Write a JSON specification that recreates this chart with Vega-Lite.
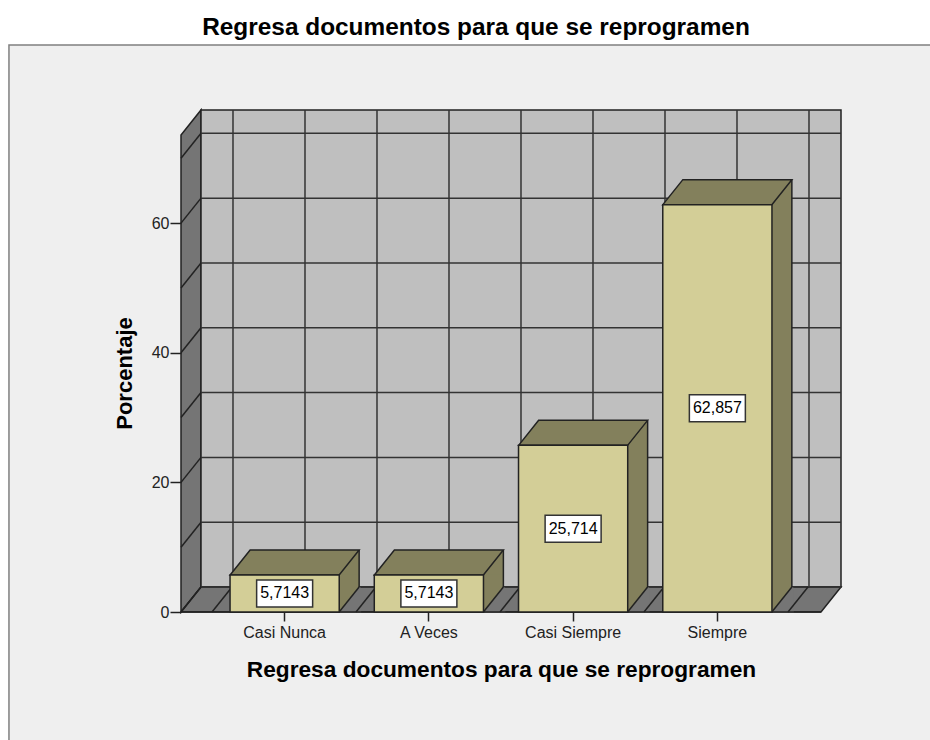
{
"$schema":"https://vega.github.io/schema/vega-lite/v6.json",
"autosize":"none",
"padding":{"left":181,"top":135,"right":109,"bottom":128},
"width":640,"height":477,
"background":"white",
"title":{"text":"Regresa documentos para que se reprogramen","font":"Liberation Sans","fontSize":24.4,"fontWeight":"bold","color":"#000","anchor":"middle","dx":-25,"dy":27,"offset":7,"baseline":"bottom"},
"config":{"view":{"stroke":null},"font":"Liberation Sans"},
"datasets":{
"bars":[{"cat":"Casi Nunca","value":5.7143,"label":"5,7143"},{"cat":"A Veces","value":5.7143,"label":"5,7143"},{"cat":"Casi Siempre","value":25.714,"label":"25,714"},{"cat":"Siempre","value":62.857,"label":"62,857"}],
"ticks":[{"v":0},{"v":10},{"v":20},{"v":30},{"v":40},{"v":50},{"v":60},{"v":70}],
"cols":[{"g":0},{"g":1},{"g":2},{"g":3},{"g":4},{"g":5},{"g":6},{"g":7},{"g":8}],
"one":[{"k":1}]
},
"resolve":{"scale":{"x":"independent","y":"independent"}},
"layer":[
{"data":{"name":"one"},"mark":{"type":"rect","fill":"#efefef","stroke":"#808080","strokeWidth":1.5},
 "encoding":{"x":{"datum":-2.82,"type":"quantitative","scale":{"domain":[-0.4306,8.4583],"nice":false,"zero":false},"axis":null},"x2":{"datum":12},
 "y":{"datum":87.5,"type":"quantitative","scale":{"domain":[0,73.6],"nice":false},"axis":{"values":[0,20,40,60],"title":"Porcentaje","titleFont":"Liberation Sans","titleFontSize":22,"titleFontWeight":"bold","titleColor":"#000","titleX":-45,"titleY":238,"labelFont":"Liberation Sans","labelFontSize":16,"labelColor":"#222","tickColor":"#222","tickSize":11,"tickWidth":1.5,"domain":false,"grid":false,"labelPadding":1,"zindex":2}},"y2":{"datum":-30}}},
{"data":{"name":"one"},"mark":{"type":"point","filled":true,"opacity":1,"fill":"#757575","stroke":"#222","strokeWidth":1.5,"size":4,"shape":"M0,0L0,-477L20,-502L20,-25Z"},
 "encoding":{"x":{"datum":-0.4306,"type":"quantitative","scale":{"domain":[-0.4306,8.4583],"nice":false,"zero":false},"axis":null},"y":{"datum":0,"type":"quantitative","scale":{"domain":[0,73.6],"nice":false},"axis":null}}},
{"data":{"name":"one"},"mark":{"type":"point","filled":true,"opacity":1,"fill":"#bfbfbf","stroke":"#222","strokeWidth":1.5,"size":4,"shape":"M20,-25L20,-502L660,-502L660,-25Z"},
 "encoding":{"x":{"datum":-0.4306,"type":"quantitative","scale":{"domain":[-0.4306,8.4583],"nice":false,"zero":false},"axis":null},"y":{"datum":0,"type":"quantitative","scale":{"domain":[0,73.6],"nice":false},"axis":null}}},
{"data":{"name":"one"},"mark":{"type":"point","filled":true,"opacity":1,"fill":"#757575","stroke":"#222","strokeWidth":1.5,"size":4,"shape":"M0,0L20,-25L660,-25L640,0Z"},
 "encoding":{"x":{"datum":-0.4306,"type":"quantitative","scale":{"domain":[-0.4306,8.4583],"nice":false,"zero":false},"axis":null},"y":{"datum":0,"type":"quantitative","scale":{"domain":[0,73.6],"nice":false},"axis":null}}},
{"data":{"name":"ticks"},"mark":{"type":"rule","color":"#333","strokeWidth":1.5},
 "encoding":{"x":{"datum":-0.1528,"type":"quantitative","scale":{"domain":[-0.4306,8.4583],"nice":false,"zero":false},"axis":null},"x2":{"datum":8.736},"y":{"field":"v","type":"quantitative","scale":{"domain":[-3.858,69.742],"nice":false,"zero":false},"axis":null}}},
{"data":{"name":"ticks"},"mark":{"type":"point","filled":false,"opacity":1,"stroke":"#222","strokeWidth":1.5,"size":4,"shape":"M0,0L20,-25"},
 "encoding":{"x":{"datum":-0.4306,"type":"quantitative","scale":{"domain":[-0.4306,8.4583],"nice":false,"zero":false},"axis":null},"y":{"field":"v","type":"quantitative","scale":{"domain":[0,73.6],"nice":false},"axis":null}}},
{"data":{"name":"cols"},"mark":{"type":"rule","color":"#333","strokeWidth":1.5},
 "encoding":{"x":{"field":"g","type":"quantitative","scale":{"domain":[-0.7222,8.1667],"nice":false,"zero":false},"axis":null},"y":{"datum":3.858,"type":"quantitative","scale":{"domain":[0,73.6],"nice":false},"axis":null},"y2":{"datum":77.46}}},
{"data":{"name":"bars"},"mark":{"type":"bar","size":20,"xOffset":64.5,"yOffset":-25,"fill":"#83805c","strokeWidth":0},
 "encoding":{"x":{"field":"cat","type":"nominal","sort":null,"scale":{"type":"band","domain":["Casi Nunca","A Veces","Casi Siempre","Siempre"],"paddingInner":0.243,"paddingOuter":0.34},"axis":null},"y":{"field":"value","type":"quantitative","scale":{"domain":[0,73.6],"nice":false},"axis":null}}},
{"data":{"name":"bars"},"mark":{"type":"bar","size":20,"xOffset":64.5,"fill":"#83805c","strokeWidth":0},
 "encoding":{"x":{"field":"cat","type":"nominal","sort":null,"scale":{"type":"band","domain":["Casi Nunca","A Veces","Casi Siempre","Siempre"],"paddingInner":0.243,"paddingOuter":0.34},"axis":null},"y":{"field":"value","type":"quantitative","scale":{"domain":[0,73.6],"nice":false},"axis":null}}},
{"data":{"name":"bars"},"mark":{"type":"rule","xOffset":74.5,"yOffset":-25,"color":"#222","strokeWidth":1.5},
 "encoding":{"x":{"field":"cat","type":"nominal","sort":null,"scale":{"type":"band","domain":["Casi Nunca","A Veces","Casi Siempre","Siempre"],"paddingInner":0.243,"paddingOuter":0.34},"axis":null},"y":{"field":"value","type":"quantitative","scale":{"domain":[0,73.6],"nice":false},"axis":null},"y2":{"datum":0}}},
{"data":{"name":"bars"},"mark":{"type":"point","filled":true,"opacity":1,"fill":"#757575","strokeWidth":0,"size":4,"shape":"M54.5,1L76.5,1L76.5,-24L74.5,-25Z"},
 "encoding":{"x":{"field":"cat","type":"nominal","sort":null,"scale":{"type":"band","domain":["Casi Nunca","A Veces","Casi Siempre","Siempre"],"paddingInner":0.243,"paddingOuter":0.34},"axis":null},"y":{"datum":0,"type":"quantitative","scale":{"domain":[0,73.6],"nice":false},"axis":null}}},
{"data":{"name":"bars"},"mark":{"type":"point","filled":false,"opacity":1,"stroke":"#222","strokeWidth":1.5,"size":4,"shape":"M54.5,0L74.5,-25"},
 "encoding":{"x":{"field":"cat","type":"nominal","sort":null,"scale":{"type":"band","domain":["Casi Nunca","A Veces","Casi Siempre","Siempre"],"paddingInner":0.243,"paddingOuter":0.34},"axis":null},"y":{"datum":0,"type":"quantitative","scale":{"domain":[0,73.6],"nice":false},"axis":null}}},
{"data":{"name":"cols"},"mark":{"type":"point","filled":false,"opacity":1,"stroke":"#222","strokeWidth":1.5,"size":4,"shape":"M0,0L20,-25"},
 "encoding":{"x":{"field":"g","type":"quantitative","scale":{"domain":[-0.4306,8.4583],"nice":false,"zero":false},"axis":null},"y":{"datum":0,"type":"quantitative","scale":{"domain":[0,73.6],"nice":false},"axis":null}}},
{"data":{"name":"one"},"mark":{"type":"rule","color":"#222","strokeWidth":1.5},
 "encoding":{"x":{"datum":-0.4306,"type":"quantitative","scale":{"domain":[-0.4306,8.4583],"nice":false,"zero":false},"axis":null},"x2":{"datum":8.4583},"y":{"datum":0,"type":"quantitative","scale":{"domain":[0,73.6],"nice":false},"axis":null}}},
{"data":{"name":"bars"},"mark":{"type":"point","filled":true,"opacity":1,"fill":"#83805c","stroke":"#222","strokeWidth":1.5,"size":4,"shape":"M-54.5,0L-34.5,-25L74.5,-25L54.5,0Z"},
 "encoding":{"x":{"field":"cat","type":"nominal","sort":null,"scale":{"type":"band","domain":["Casi Nunca","A Veces","Casi Siempre","Siempre"],"paddingInner":0.243,"paddingOuter":0.34},"axis":null},"y":{"field":"value","type":"quantitative","scale":{"domain":[0,73.6],"nice":false},"axis":null}}},
{"data":{"name":"bars"},"mark":{"type":"bar","fill":"#d3ce97","stroke":"#222","strokeWidth":1.5},
 "encoding":{"x":{"field":"cat","type":"nominal","sort":null,"scale":{"type":"band","domain":["Casi Nunca","A Veces","Casi Siempre","Siempre"],"paddingInner":0.243,"paddingOuter":0.34},"axis":{"title":"Regresa documentos para que se reprogramen","titleFont":"Liberation Sans","titleFontSize":22.7,"titleFontWeight":"bold","titleColor":"#000","titleY":46,"labelFont":"Liberation Sans","labelFontSize":16,"labelColor":"#222","labelAngle":0,"labelPadding":3,"tickColor":"#222","tickSize":9,"tickWidth":1.5,"domain":false,"grid":false,"zindex":2}},"y":{"field":"value","type":"quantitative","scale":{"domain":[0,73.6],"nice":false},"axis":null}}},
{"data":{"name":"bars"},"mark":{"type":"point","filled":true,"opacity":1,"fill":"white","stroke":"#333","strokeWidth":1.5,"size":4,"shape":"M-28,-13.5L28,-13.5L28,13.5L-28,13.5Z"},
 "encoding":{"x":{"field":"cat","type":"nominal","sort":null,"scale":{"type":"band","domain":["Casi Nunca","A Veces","Casi Siempre","Siempre"],"paddingInner":0.243,"paddingOuter":0.34},"axis":null},"y":{"field":"value","type":"quantitative","scale":{"domain":[0,147.2],"nice":false},"axis":null}}},
{"data":{"name":"bars"},"mark":{"type":"text","font":"Liberation Sans","fontSize":16,"color":"#000","align":"center","baseline":"middle"},
 "encoding":{"x":{"field":"cat","type":"nominal","sort":null,"scale":{"type":"band","domain":["Casi Nunca","A Veces","Casi Siempre","Siempre"],"paddingInner":0.243,"paddingOuter":0.34},"axis":null},"y":{"field":"value","type":"quantitative","scale":{"domain":[0,147.2],"nice":false},"axis":null},"text":{"field":"label","type":"nominal"}}}
]
}
